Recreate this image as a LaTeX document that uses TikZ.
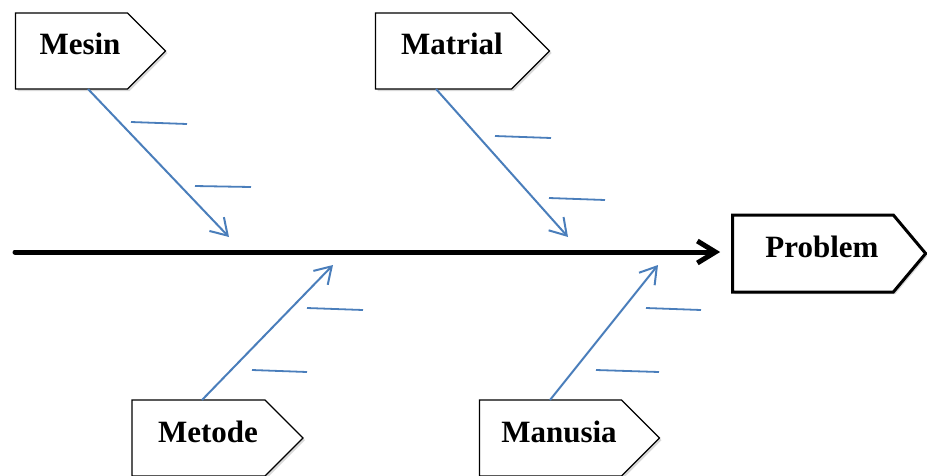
\documentclass[tikz,border=0pt]{standalone}
\usepackage{fontspec}
\setmainfont{Liberation Serif}
\usetikzlibrary{arrows.meta, shapes.symbols, shadows}
\definecolor{bonebl}{RGB}{74,126,187}

\tikzset{
  cause/.style={signal, signal to=east, signal pointer angle=90, draw=black, line width=1.2pt,
    fill=white, inner sep=0pt, minimum width=150pt, minimum height=76pt,
    drop shadow={shadow xshift=2pt, shadow yshift=-2pt, opacity=0.3}},
  causetext/.style={anchor=base, font=\fontsize{31}{34}\selectfont\bfseries},
  bone/.style={draw=bonebl, line width=2pt, -{Straight Barb[length=16pt,width=20pt]}},
  subcause/.style={draw=bonebl, line width=1.8pt},
  spine/.style={draw=black, line width=5pt, line cap=round, -{Straight Barb[length=18pt,width=22pt]}}
}

\begin{document}
\begin{tikzpicture}[x=1pt, y=-1pt]
        \useasboundingbox (0,0) rectangle (927,475);

        % Boxes
        \node[cause] (mesin) at (71.5,51) {};
        \node[cause, minimum width=174pt] (matrial) at (443.5,51) {};
        \node[cause, minimum width=171pt] (metode) at (198.5,438) {};
        \node[cause, minimum width=180pt] (manusia) at (550.5,438) {};
        \node[cause, line width=3pt, minimum width=193pt, minimum height=77pt, signal pointer angle=100] (problem) at (813,253.5) {};

        % Labels
        \node[causetext] (mesin-lbl) at ([xshift=8.5pt,yshift=-3pt]mesin.center) {Mesin};
        \node[causetext] (matrial-lbl) at ([xshift=8.5pt,yshift=-3pt]matrial.center) {Matrial};
        \node[causetext] (metode-lbl) at ([xshift=9.5pt,yshift=-4pt]metode.center) {Metode};
        \node[causetext] (manusia-lbl) at ([xshift=8.5pt,yshift=-4pt]manusia.center) {Manusia};
        \node[causetext] (problem-lbl) at ([xshift=9pt,yshift=-3.5pt]problem.center) {Problem};

        % Spine
        \coordinate (spine-start) at (15,252);
        \draw[spine] (spine-start) -- ([xshift=-11pt,yshift=1.5pt]problem.west);

        % Bones
        \coordinate (mesin-tail) at (88,89);
        \coordinate (mesin-head) at (229,237);
        \coordinate (matrial-tail) at (436,89);
        \coordinate (matrial-head) at (568,237);
        \coordinate (metode-tail) at (202,400);
        \coordinate (metode-head) at (333,265);
        \coordinate (manusia-tail) at (550,400);
        \coordinate (manusia-head) at (658,265);
        \draw[bone] (mesin-tail) -- (mesin-head);
        \draw[bone] (matrial-tail) -- (matrial-head);
        \draw[bone] (metode-tail) -- (metode-head);
        \draw[bone] (manusia-tail) -- (manusia-head);

        % Sub causes
        \draw[subcause] (131,122) -- (187,124);
        \draw[subcause] (195,186) -- (251,187);
        \draw[subcause] (495,136) -- (551,138);
        \draw[subcause] (549,198) -- (605,200);
        \draw[subcause] (307,308) -- (363,310);
        \draw[subcause] (252,370) -- (307,372);
        \draw[subcause] (646,308) -- (701,310);
        \draw[subcause] (596,370) -- (659,372);
    \end{tikzpicture}
\end{document}
